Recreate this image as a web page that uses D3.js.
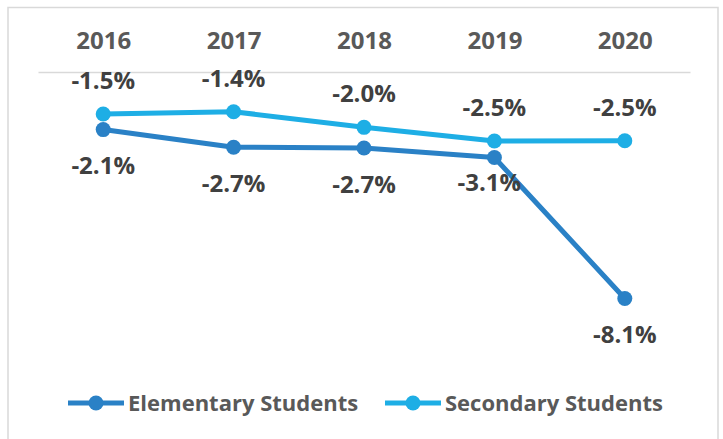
<!DOCTYPE html>
<meta charset="utf-8">
<head>
  <style>
    body { margin: 0; background: #fff; }
    text { font-family: "Open Sans", sans-serif; font-weight: 700; }
    .axis text { font-size: 24px; fill: #595959; }
    .axis path { stroke: #d9d9d9; stroke-width: 1.5px; }
    .lbl { font-size: 24px; fill: #404040; }
    .legend text { font-size: 22px; fill: #595959; }
  </style>
</head>
<body>
  <svg width="723" height="439"></svg>
  <script src="https://d3js.org/d3.v7.min.js"></script>
  <script>
    var years = ["2016", "2017", "2018", "2019", "2020"];
    var elementary = [-2.06, -2.69, -2.72, -3.06, -8.1];
    var secondary = [-1.5, -1.42, -1.98, -2.47, -2.46];
    var seriesNames = ["Elementary Students", "Secondary Students"];

    var colors = ["#2a81c6", "#1eaee5"];

    var svg = d3.select("svg");

    // chart border (bottom edge runs off the picture)
    svg.append("rect")
        .attr("x", 8).attr("y", 7.5)
        .attr("width", 710).attr("height", 460)
        .attr("fill", "none")
        .attr("stroke", "#d9d9d9")
        .attr("stroke-width", 1.5);

    var x = d3.scalePoint().domain(years).range([38, 690]).padding(0.5);
    var y = d3.scaleLinear().domain([0, -9]).range([72, 323.6]);

    var axis = svg.append("g")
        .attr("class", "axis")
        .attr("transform", "translate(0," + y(0) + ")")
        .call(d3.axisTop(x).tickSize(0).tickSizeOuter(0).tickPadding(23.5));
    axis.selectAll("text").attr("font-family", null).attr("font-size", null);

    var series = [
      { name: seriesNames[0], values: elementary, color: colors[0], below: true },
      { name: seriesNames[1], values: secondary, color: colors[1], below: false }
    ];

    var line = d3.line()
        .x(function(d, i) { return x(years[i]); })
        .y(function(d) { return y(d); });

    series.forEach(function(s) {
      svg.append("path")
          .datum(s.values)
          .attr("d", line)
          .attr("fill", "none")
          .attr("stroke", s.color)
          .attr("stroke-width", 5)
          .attr("stroke-linejoin", "round");

      svg.selectAll(null)
          .data(s.values)
          .enter().append("circle")
          .attr("cx", function(d, i) { return x(years[i]); })
          .attr("cy", function(d) { return y(d); })
          .attr("r", 7.5)
          .attr("fill", s.color);
    });

    // data labels: elementary below, secondary above; 2019 elementary label nudged up
    series.forEach(function(s) {
      svg.selectAll(null)
          .data(s.values)
          .enter().append("text")
          .attr("class", "lbl")
          .attr("text-anchor", "middle")
          .attr("x", function(d, i) {
            return x(years[i]) + (s.below && years[i] === "2019" ? -5 : 0);
          })
          .attr("y", function(d, i) {
            if (!s.below) return y(d) - 25;
            return y(d) + (years[i] === "2019" ? 33 : 44.5);
          })
          .text(function(d) { return d.toFixed(1) + "%"; });
    });

    // legend
    var legendX = [68, 385];
    var legend = svg.append("g").attr("class", "legend");
    series.forEach(function(s, i) {
      var g = legend.append("g").attr("transform", "translate(" + legendX[i] + ",403)");
      g.append("line")
          .attr("x1", 0).attr("x2", 56)
          .attr("stroke", s.color).attr("stroke-width", 5);
      g.append("circle").attr("cx", 28).attr("r", 7.5).attr("fill", s.color);
      g.append("text").attr("x", 60).attr("y", 8).text(s.name);
    });
  </script>
</body>
</html>
